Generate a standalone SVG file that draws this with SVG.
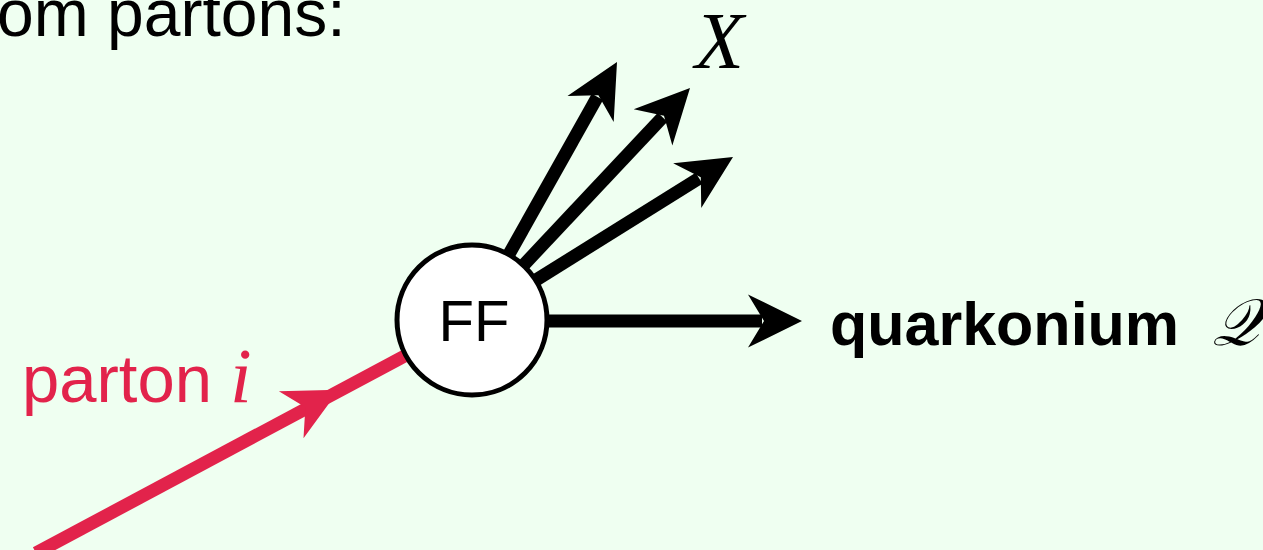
<svg xmlns="http://www.w3.org/2000/svg" width="1263" height="550" viewBox="0 0 1263 550">
<style>
.sans{font-family:"Liberation Sans",Arial,sans-serif}
.math{font-family:"Liberation Serif","Times New Roman",serif;font-style:italic}
.blk{stroke:#000;stroke-width:13;fill:none}
.red{stroke:#e2234b;stroke-width:13;fill:none}
</style>
<defs>
<path id="head" d="M0,0 L-54,-26.5 L-38,0 L-54,26.5 Z"/>
</defs>
<rect width="1263" height="550" fill="#effff1"/>
<text class="sans" x="-3" y="36" font-size="66" fill="#000">om partons:</text>
<g id="connectors">
<line class="red" x1="36" y1="553" x2="472" y2="320"/>
<use href="#head" fill="#e2234b" transform="translate(339,389.7) rotate(-27.7)"/>
<line class="blk" x1="472" y1="320" x2="597.4" y2="96.9"/>
<use href="#head" fill="#000" transform="translate(617,62) rotate(-60.7)"/>
<line class="blk" x1="472" y1="320" x2="662.6" y2="117.2"/>
<use href="#head" fill="#000" transform="translate(690,88) rotate(-46.8)"/>
<line class="blk" x1="472" y1="320" x2="699.1" y2="178.2"/>
<use href="#head" fill="#000" transform="translate(733,157) rotate(-32)"/>
<line class="blk" x1="472" y1="321" x2="762" y2="321"/>
<use href="#head" fill="#000" transform="translate(802,321)"/>
</g>
<g id="ff">
<circle cx="472" cy="320" r="75" fill="#fff" stroke="#000" stroke-width="5"/>
<text class="sans" x="474" y="341" font-size="58" text-anchor="middle" fill="#000">FF</text>
</g>
<g id="parton">
<text class="sans" x="22" y="402" font-size="67" fill="#e2234b">parton</text>
<text class="math" x="230" y="402" font-size="78" fill="#e2234b">i</text>
</g>
<g id="x-label">
<text class="math" x="695" y="68" font-size="80" fill="#000">X</text>
</g>
<g id="quarkonium">
<text class="sans" x="830" y="345" font-size="61" font-weight="bold" fill="#000">quarkonium</text>
<text class="math" x="1212" y="345" font-size="66" fill="#000">𝒬</text>
</g>
</svg>
